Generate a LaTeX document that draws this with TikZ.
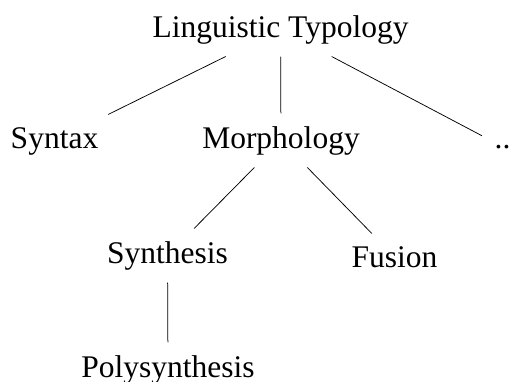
\documentclass[tikz,border=0pt]{standalone}
\usepackage{fontspec}
\setmainfont{Liberation Serif}
\begin{document}
\begin{tikzpicture}[x=1pt,y=-1pt,
  lbl/.style={anchor=base,inner sep=12.5pt,font=\fontsize{31.5}{38}\selectfont},
  conn/.style={line width=0.75pt}]
\useasboundingbox (0,0) rectangle (514,381);
\node[lbl] (lt) at (280.5,37) {Linguistic Typology};
\node[lbl] (syn) at (54.5,148) {Syntax};
\node[lbl] (mor) at (281,148) {Morphology};
\node[lbl] (dots) at (502.5,148) {..};
\node[lbl] (sth) at (167.5,263) {Synthesis};
\node[lbl] (fus) at (394.5,267) {Fusion};
\node[lbl] (pol) at (168,377) {Polysynthesis};
\draw[conn] (lt) -- (syn);
\draw[conn] (lt) -- (mor);
\draw[conn] (lt) -- (dots);
\draw[conn] (mor) -- (sth);
\draw[conn] (mor) -- (fus);
\draw[conn] (sth) -- (pol);
\end{tikzpicture}
\end{document}
